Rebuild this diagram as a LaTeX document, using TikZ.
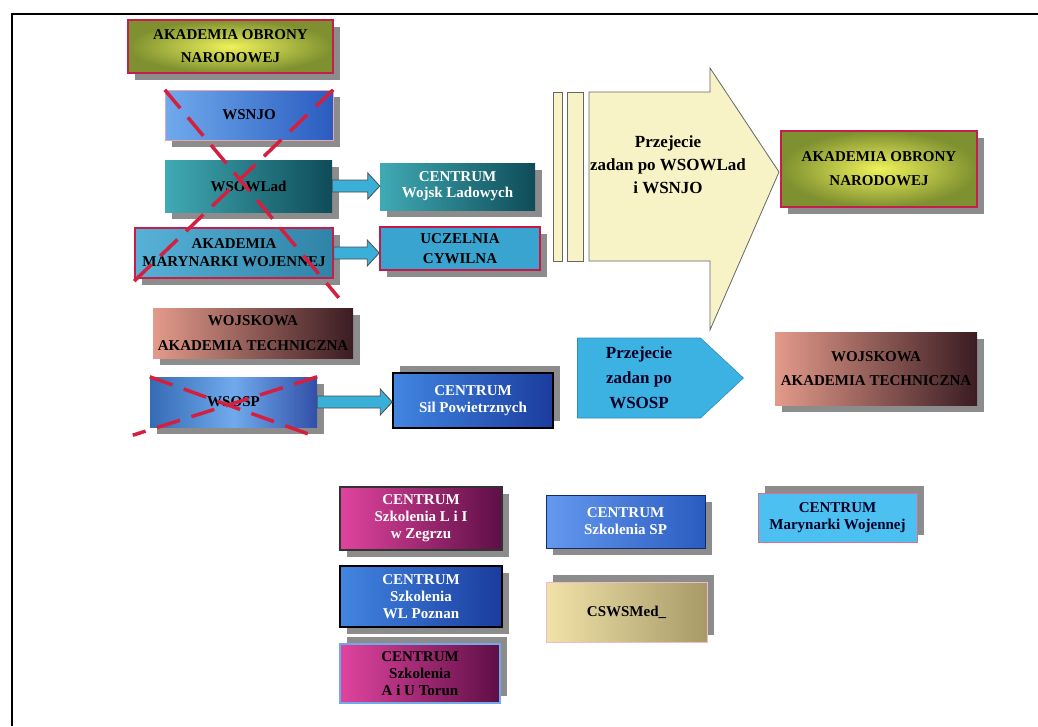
\documentclass[tikz,border=0pt]{standalone}
\usepackage{fontspec}
\setmainfont{Liberation Serif}
\usepackage{tikz}
\usetikzlibrary{shapes,shapes.symbols,arrows,positioning,calc,shadows}
\usepackage{xcolor}

\definecolor{crim}{HTML}{C41E4A}
\definecolor{xred}{HTML}{D42040}
\definecolor{shadowgray}{HTML}{8C8C8C}
\definecolor{aonin}{HTML}{EEF25A}
\definecolor{aonout}{HTML}{7E9030}
\definecolor{skyl}{HTML}{70AAEC}
\definecolor{skyd}{HTML}{2A5CC0}
\definecolor{teall}{HTML}{40AAB4}
\definecolor{teald}{HTML}{0E4C58}
\definecolor{cyanbox}{HTML}{3AA4D0}
\definecolor{cream}{HTML}{F7F3C6}
\definecolor{salmon}{HTML}{E39A8A}
\definecolor{brownd}{HTML}{3A1C22}
\definecolor{bluel}{HTML}{4286E2}
\definecolor{blued}{HTML}{1A3C9E}
\definecolor{pent}{HTML}{3CB2E2}
\definecolor{magl}{HTML}{E0449E}
\definecolor{magd}{HTML}{5E0E46}
\definecolor{khakil}{HTML}{F0E2A8}
\definecolor{khakid}{HTML}{A89A68}
\definecolor{mwblue}{HTML}{4CC0F0}
\definecolor{arrowblue}{HTML}{3AB0D8}

\tikzset{
  box/.style={rectangle, align=center, inner sep=2pt,
    font=\fontsize{15}{17}\selectfont\bfseries},
  dshadow/.style={drop shadow={shadow xshift=7pt, shadow yshift=-7pt, fill=shadowgray, opacity=1}},
  ushadow/.style={drop shadow={shadow xshift=7pt, shadow yshift=7pt, fill=shadowgray, opacity=1}},
  aonbox/.style={box, dshadow, inner color=aonin, outer color=aonout, draw=crim, line width=1.5pt},
  tealbox/.style={box, dshadow, left color=teall, right color=teald},
  watbox/.style={box, dshadow, left color=salmon, right color=brownd},
  magbox/.style={box, left color=magl, right color=magd},
  bluebox/.style={box, left color=bluel, right color=blued},
  crossout/.style={draw=xred, line width=3.5pt, dash pattern=on 24pt off 12pt},
  barrow/.style={fill=arrowblue, draw=black!70, line width=0.8pt},
  bigarrow/.style={fill=cream, draw=black!60, line width=0.8pt}
}

% block arrow from one box to the next
\newcommand{\blockarrow}[2]{%
  \filldraw[barrow] let \p1=(#1.east), \p2=(#2.west) in
    (\x1,\y1+6pt) -- (\x2-12pt,\y1+6pt) -- (\x2-12pt,\y1+13pt) -- (\x2,\y1)
    -- (\x2-12pt,\y1-13pt) -- (\x2-12pt,\y1-6pt) -- (\x1,\y1-6pt) -- cycle;}

\begin{document}
\begin{tikzpicture}[x=1pt, y=-1pt]
  \useasboundingbox (0,0) rectangle (1038,726);

  % Frame
  \draw[line width=1.5pt] (12,726) -- (12,14) -- (1038,14);

  % Left column
  \node[aonbox, minimum width=205pt, minimum height=53pt, font=\fontsize{15}{23}\selectfont\bfseries]
    (aonL) at (230.5,46.5) {AKADEMIA OBRONY\\NARODOWEJ};
  \node[box, dshadow, left color=skyl, right color=skyd, draw=crim!40, minimum width=168pt, minimum height=50pt]
    (wsnjo) at (249,115) {WSNJO};
  \node[tealbox, minimum width=167pt, minimum height=52pt] (wsowlad) at (248.5,186) {WSOWLad};
  \node[box, dshadow, left color=cyanbox!85!white, right color=cyanbox!80!black, draw=crim, line width=1.5pt,
    minimum width=198pt, minimum height=50pt, font=\fontsize{15}{18}\selectfont\bfseries]
    (amw) at (234,253) {AKADEMIA\\MARYNARKI WOJENNEJ};
  \node[watbox, minimum width=200pt, minimum height=50pt, font=\fontsize{15}{25}\selectfont\bfseries]
    (watL) at (253,333) {WOJSKOWA\\AKADEMIA TECHNICZNA};
  \node[box, dshadow, left color=bluel!80!black, right color=blued!90!white, middle color=skyl,
    minimum width=167pt, minimum height=50pt] (wsosp) at (233.5,402) {WSOSP};

  % Crossed out schools
  \draw[crossout] (wsnjo.north west) -- ($(amw.south east)+(5,19)$);
  \draw[crossout] (wsnjo.north east) -- ($(amw.south west)+(-7,9)$);
  \draw[crossout] (wsosp.north west) -- ($(wsosp.south east)+(0,10)$);
  \draw[crossout] (wsosp.north east) -- ($(wsosp.south west)+(-17,8)$);

  % New units
  \node[tealbox, text=white, minimum width=155pt, minimum height=47pt, font=\fontsize{15}{16}\selectfont\bfseries]
    (cwl) at (457.5,186.5) {CENTRUM\\Wojsk Ladowych};
  \node[box, dshadow, fill=cyanbox, draw=crim!80!purple, line width=1.5pt, minimum width=160pt, minimum height=43pt,
    font=\fontsize{15}{20}\selectfont\bfseries] (ucz) at (460,248.5) {UCZELNIA\\CYWILNA};
  \node[bluebox, ushadow, text=white, draw=black, line width=1.5pt, minimum width=160pt, minimum height=55pt]
    (csp) at (473,400.5) {CENTRUM\\Sil Powietrznych};

  \blockarrow{wsowlad}{cwl}
  \blockarrow{amw}{ucz}
  \blockarrow{wsosp}{csp}

  % Big arrow
  \filldraw[bigarrow] (553,92) rectangle (562,261);
  \filldraw[bigarrow] (567,92) rectangle (583,261);
  \filldraw[bigarrow] (589,92) -- (710,92) -- (710,68) -- (779,172) -- (710,330) -- (710,261) -- (589,261) -- cycle;
  \begin{scope}
    \clip (589,92) -- (710,92) -- (710,68) -- (779,172) -- (710,330) -- (710,261) -- (589,261) -- cycle;
    \node[align=center, font=\fontsize{17}{23}\selectfont\bfseries] (takeover) at (668,165)
      {Przejecie\\zadan po WSOWLad\\i WSNJO};
  \end{scope}

  % Small arrow
  \node[signal, signal to=east, signal pointer angle=86, fill=pent, draw=pent!80!black, line width=0.6pt,
    minimum width=166pt, minimum height=80pt, inner sep=0pt, align=center, text=black!85!blue,
    font=\fontsize{17}{25}\selectfont\bfseries] (takeover2) at (639,378) {Przejecie\\zadan po\\WSOSP};

  % Right column
  \node[aonbox, minimum width=196pt, minimum height=76pt, font=\fontsize{15}{24}\selectfont\bfseries]
    (aonR) at (879,169) {AKADEMIA OBRONY\\NARODOWEJ};
  \node[watbox, minimum width=202pt, minimum height=73pt, font=\fontsize{15}{24}\selectfont\bfseries]
    (watR) at (876,368.5) {WOJSKOWA\\AKADEMIA TECHNICZNA};

  % Training centres
  \node[magbox, dshadow, text=white, draw=black!80, line width=1.2pt, minimum width=162pt, minimum height=63pt]
    (czeg) at (421,518.5) {CENTRUM\\Szkolenia L i I\\w Zegrzu};
  \node[bluebox, dshadow, text=white, draw=black, line width=1.5pt, minimum width=162pt, minimum height=61pt]
    (cpoz) at (421,596.5) {CENTRUM\\Szkolenia\\WL Poznan};
  \node[magbox, ushadow, draw=skyl, line width=1.5pt, minimum width=160pt, minimum height=59pt]
    (ctor) at (420,673.5) {CENTRUM\\Szkolenia\\A i U Torun};
  \node[box, dshadow, left color=skyl!90!blue, right color=skyd, text=white, draw=blued!70!black, line width=0.8pt,
    minimum width=159pt, minimum height=53pt] (csp2) at (625.5,521.5) {CENTRUM\\Szkolenia SP};
  \node[box, ushadow, left color=khakil, right color=khakid, draw=crim!30, minimum width=161pt, minimum height=60pt]
    (cmed) at (626.5,612) {CSWSMed\_};
  \node[box, ushadow, fill=mwblue, draw=crim!50!purple!60, line width=0.8pt, text=black!85!blue,
    minimum width=159pt, minimum height=49pt] (cmw) at (837.5,517.5) {CENTRUM\\Marynarki Wojennej};
\end{tikzpicture}
\end{document}
